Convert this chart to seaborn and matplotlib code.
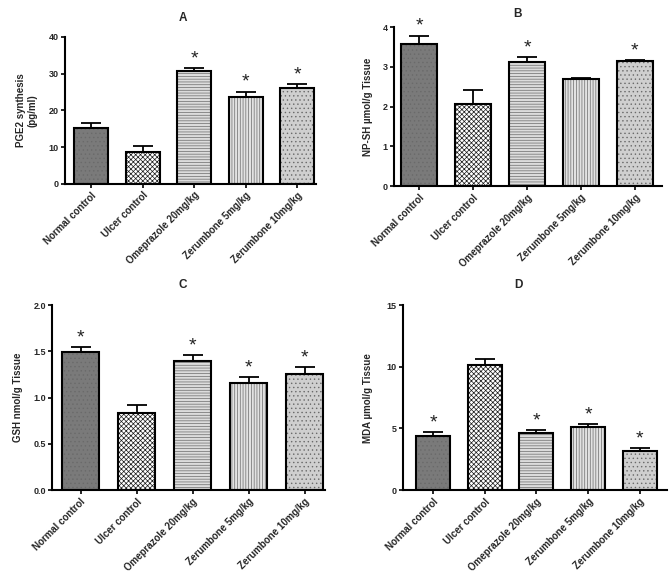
import matplotlib
matplotlib.use("Agg")
import matplotlib.pyplot as plt
import seaborn as sns
import numpy as np
import pandas as pd

groups = ["Normal control", "Ulcer control", "Omeprazole 20mg/kg",
          "Zerumbone 5mg/kg", "Zerumbone 10mg/kg"]

pge2_mean = [15.2, 8.8, 30.7, 23.6, 26.0]
pge2_err = [1.3, 1.6, 0.7, 1.5, 1.2]
pge2_sig = [0, 0, 1, 1, 1]

npsh_mean = [3.58, 2.08, 3.13, 2.70, 3.15]
npsh_err = [0.21, 0.35, 0.11, 0.03, 0.03]
npsh_sig = [1, 0, 1, 0, 1]

gsh_mean = [1.495, 0.83, 1.40, 1.155, 1.26]
gsh_err = [0.055, 0.09, 0.06, 0.07, 0.066]
gsh_sig = [1, 0, 1, 1, 1]

mda_mean = [4.38, 10.14, 4.65, 5.11, 3.19]
mda_err = [0.35, 0.46, 0.19, 0.21, 0.24]
mda_sig = [1, 0, 1, 1, 1]

panel_letters = ["A", "B", "C", "D"]
ylabels = ["PGE2 synthesis\n(pg/ml)", "NP-SH µmol/g Tissue",
           "GSH nmol/g Tissue", "MDA µmol/g Tissue"]
yticks_list = [[0, 10, 20, 30, 40], [0, 1, 2, 3, 4],
               [0.0, 0.5, 1.0, 1.5, 2.0], [0, 5, 10, 15]]
ytick_fmt = ["{:.0f}", "{:.0f}", "{:.1f}", "{:.0f}"]

fills = ["#7a7a7a", "#ffffff", "#dcdcdc", "#e2e2e2", "#cfcfcf"]
hatches = ["....", "xxxxxxx", "------", "||||||", "...."]

sns.set_theme(style="white")
plt.rcParams["font.family"] = ["Liberation Sans", "DejaVu Sans"]
plt.rcParams["hatch.linewidth"] = 0.5

fig = plt.figure(figsize=(6.71, 5.8), dpi=100)

rects = [[0.0969, 0.683, 0.374, 0.2534],
         [0.587, 0.679, 0.3994, 0.274],
         [0.0775, 0.155, 0.4069, 0.319],
         [0.6006, 0.155, 0.393, 0.319]]
xlims = [(-0.51, 4.36), (-0.47, 4.5), (-0.51, 4.36), (-0.58, 4.52)]
title_pos = [(183, 18), (518, 14), (183, 285), (518, 285)]
ylabel_x = [27, 368, 18, 368]

datasets = [(pge2_mean, pge2_err, pge2_sig), (npsh_mean, npsh_err, npsh_sig),
            (gsh_mean, gsh_err, gsh_sig), (mda_mean, mda_err, mda_sig)]

W, H = 671, 580
for i, (mean, err, sig) in enumerate(datasets):
    ax = fig.add_axes(rects[i])
    df = pd.DataFrame({"group": groups, "value": mean})
    sns.barplot(data=df, x="group", y="value", hue="group", palette=fills,
                legend=False, errorbar=None, width=0.66, ax=ax,
                edgecolor="#6a6a6a", linewidth=0)
    for p, h in zip(ax.patches, hatches):
        p.set_hatch(h)
        if h.startswith("x"):
            p.set_edgecolor("#1a1a1a")
    n = len(ax.patches)
    sns.barplot(data=df, x="group", y="value", hue="group",
                palette=["none"] * 5, legend=False, errorbar=None,
                width=0.66, ax=ax, fill=False)
    for p in ax.patches[n:]:
        p.set_edgecolor("black")
        p.set_linewidth(1.5)
        p.set_facecolor("none")
    ax.errorbar(np.arange(len(groups)), mean,
                yerr=[np.zeros(len(err)), err], fmt="none",
                ecolor="black", elinewidth=1.3, capsize=7, capthick=1.3,
                zorder=1)
    for j, s in enumerate(sig):
        if s:
            ax.annotate("*", (j, mean[j] + err[j]), xytext=(0, 0.5),
                        textcoords="offset points", ha="center", va="bottom",
                        fontsize=14, color="#222222")
    yt = yticks_list[i]
    ax.set_ylim(yt[0], yt[-1])
    ax.set_yticks(yt)
    ax.set_yticklabels([ytick_fmt[i].format(v) for v in yt],
                       fontsize=6.5, fontweight="bold")
    ax.set_xlim(*xlims[i])
    ax.set_xticks(range(len(groups)))
    ax.set_xticklabels(groups, rotation=45, ha="right", rotation_mode="anchor",
                       fontsize=7, fontweight="bold")
    ax.set_xlabel("")
    ax.set_ylabel("")
    for side in ["top", "right"]:
        ax.spines[side].set_visible(False)
    for side in ["left", "bottom"]:
        ax.spines[side].set_color("black")
        ax.spines[side].set_linewidth(1.5)
    ax.tick_params(axis="both", which="both", length=3, width=1.2,
                   color="black", direction="out", pad=1.5,
                   left=True, bottom=True)
    fig.text(title_pos[i][0] / W, 1 - title_pos[i][1] / H, panel_letters[i],
             ha="center", va="center", fontsize=8.5, fontweight="bold")
    yc = rects[i][1] + rects[i][3] / 2
    fig.text(ylabel_x[i] / W, yc, ylabels[i], rotation=90, ha="center",
             va="center", fontsize=7, fontweight="bold", linespacing=1.2)

fig.savefig("out.png", dpi=100, facecolor="white")
